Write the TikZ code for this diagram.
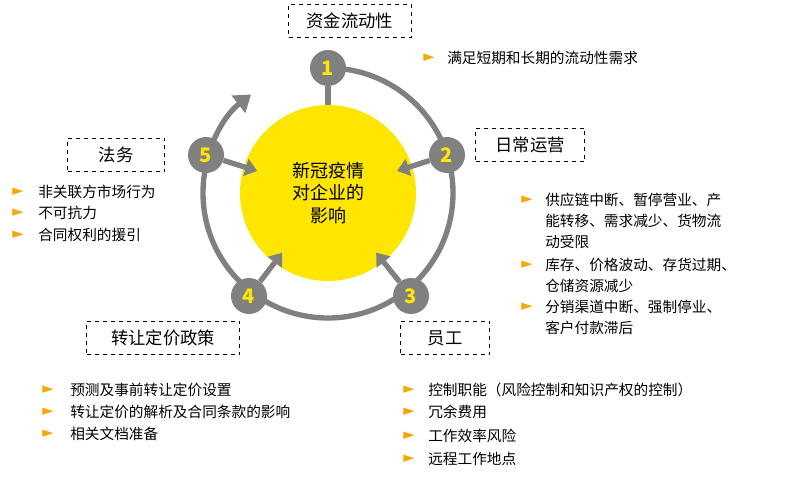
\documentclass[tikz,border=0pt]{standalone}
\usepackage{fontspec}
\setmainfont{Noto Sans CJK SC}
\newfontfamily\dv{DejaVu Sans}
\usetikzlibrary{arrows.meta,calc}
\definecolor{ring}{HTML}{808080}
\definecolor{yel}{HTML}{FFE600}
\definecolor{org}{HTML}{F5A800}
\begin{document}
\begin{tikzpicture}[x=0.75pt,y=-0.75pt,
 num/.style={circle,fill=ring,minimum size=27pt,inner sep=0pt,text=yel,font=\fontsize{15}{15}\selectfont\bfseries},
 tbox/.style={draw,dashed,thick,minimum height=25pt,font=\fontsize{13}{15}\selectfont,anchor=west},
 bl/.style={anchor=west,font=\fontsize{11}{13}\selectfont,inner sep=0pt},
 tri/.style={anchor=west,text=org,font=\dv\fontsize{11}{11}\selectfont,inner sep=0pt},
 arr/.style={ring,line width=4pt,-{Triangle[length=9pt,width=13pt]}}]
\useasboundingbox (0,0) rectangle (800,478);
\node[circle,fill=yel,minimum size=132pt,inner sep=0pt,align=center,font=\fontsize{13.5}{17}\selectfont] (c) at (328,193) {新冠疫情\\对企业的\\影响};
\draw[ring,line width=4pt,-{Triangle[length=12pt,width=16pt]}] (328,193) ++(-90:125) arc[start angle=-90,end angle=232,radius=125];
\node[num] (n1) at (328,68) {1};
\node[num] (n2) at (447,155) {2};
\node[num] (n3) at (411,296) {3};
\node[num] (n4) at (249,296) {4};
\node[num] (n5) at (206,155) {5};
\draw[ring,line width=4pt] (n1) -- (c.north);
\draw[arr] (n2) -- ($(c)!0.58!(n2)$);
\draw[arr] (n3) -- ($(c)!0.58!(n3)$);
\draw[arr] (n4) -- ($(c)!0.58!(n4)$);
\draw[arr] (n5) -- ($(c)!0.58!(n5)$);
\node[tbox,minimum width=92pt] (b1) at (288,21) {资金流动性};
\node[tbox,minimum width=82pt] (b2) at (475,145) {日常运营};
\node[tbox,minimum width=73pt] (b5) at (67,155) {法务};
\node[tbox,minimum width=115pt] (b4) at (86,338) {转让定价政策};
\node[tbox,minimum width=67pt] (b3) at (400,338) {员工};
\node[tri] at (423,58) {►}; \node[bl] at (447,58) {满足短期和长期的流动性需求};
\foreach \y/\t in {192/非关联方市场行为,213/不可抗力,235/合同权利的援引}{
 \node[tri] at (12,\y) {►}; \node[bl] at (38,\y) {\t};}
\foreach \y in {200,265,307}{\node[tri] at (521,\y) {►};}
\foreach \y/\t in {200/{供应链中断、暂停营业、产},221/{能转移、需求减少、货物流},242/动受限,265/{库存、价格波动、存货过期、},286/仓储资源减少,307/{分销渠道中断、强制停业、},328/客户付款滞后}{
 \node[bl] at (545,\y) {\t};}
\foreach \y/\t in {390/预测及事前转让定价设置,412/转让定价的解析及合同条款的影响,434/相关文档准备}{
 \node[tri] at (42,\y) {►}; \node[bl] at (70,\y) {\t};}
\foreach \y/\t in {390/控制职能（风险控制和知识产权的控制）,412/冗余费用,436/工作效率风险,459/远程工作地点}{
 \node[tri] at (403,\y) {►}; \node[bl] at (428,\y) {\t};}
\end{tikzpicture}
\end{document}
